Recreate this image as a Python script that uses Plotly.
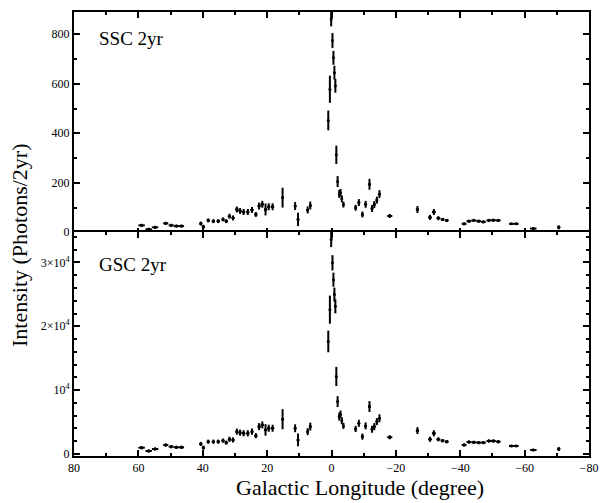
import plotly.graph_objects as go
from plotly.subplots import make_subplots

# Galactic longitude (deg)
lon = [59.0, 56.8, 54.8,
       51.5, 49.8, 48.2, 46.6,
       40.6, 39.8, 38.3, 36.7, 35.2, 33.7, 32.7, 31.7, 30.6, 29.4, 28.4, 27.3, 26.0, 24.7,
       23.5, 22.5, 21.5, 20.5, 19.5, 18.3,
       15.2, 11.3, 10.4, 7.4, 6.6,
       1.0, 0.5, 0.1, -0.3, -0.6, -0.9, -1.2, -1.5, -1.9, -2.4, -2.8, -3.2, -3.7,
       -7.5, -8.5, -9.6, -10.6, -11.8, -12.6, -13.3, -14.1, -14.9,
       -18.1, -26.7, -30.6, -31.8, -33.2, -34.5, -35.8,
       -41.2, -42.7, -44.2, -45.7, -47.2, -48.9, -50.3, -51.8,
       -55.9, -57.4, -62.7, -70.6]

lon_err = [1.0, 1.0, 1.0,
           0.8, 0.8, 0.8, 0.8,
           0.5, 0.5, 0.5, 0.5, 0.5, 0.5, 0.5, 0.5, 0.5, 0.5, 0.5, 0.5, 0.5, 0.5,
           0.5, 0.5, 0.5, 0.5, 0.5, 0.5,
           0.3, 0.4, 0.4, 0.4, 0.4,
           0.15, 0.15, 0.15, 0.15, 0.15, 0.15, 0.15, 0.15, 0.15, 0.15, 0.15, 0.15, 0.15,
           0.4, 0.4, 0.4, 0.4, 0.4, 0.4, 0.4, 0.4, 0.4,
           0.8, 0.5, 0.6, 0.6, 0.6, 0.6, 0.6,
           0.75, 0.75, 0.75, 0.75, 0.75, 0.75, 0.75, 0.75,
           0.75, 0.75, 1.0, 0.5]

# SSC 2yr intensity (photons / 2yr)
ssc = [28, 12, 20,
       36, 28, 25, 25,
       35, 22, 48, 45, 45, 52, 45, 65, 58, 92, 86, 82, 82, 90,
       72, 106, 113, 92, 103, 103,
       140, 106, 52, 90, 108,
       452, 578, 862, 775, 705, 645, 592, 313, 205, 155, 160, 135, 112,
       99, 120, 72, 113, 194, 96, 112, 130, 154,
       66, 92, 60, 82, 57, 52, 48,
       34, 45, 48, 45, 42, 48, 49, 48,
       34, 34, 15, 20]

ssc_err = [6, 6, 6,
           6, 6, 6, 6,
           8, 8, 8, 8, 8, 8, 8, 10, 10, 12, 12, 12, 12, 12,
           10, 14, 14, 24, 14, 14,
           40, 16, 27, 14, 16,
           40, 55, 30, 30, 28, 28, 28, 37, 22, 16, 15, 14, 12,
           12, 14, 12, 14, 22, 14, 14, 14, 16,
           8, 14, 10, 12, 8, 6, 6,
           6, 6, 6, 6, 6, 6, 6, 6,
           4, 4, 5, 8]

# GSC 2yr intensity (photons / 2yr)
gsc = [990, 470, 785,
       1410, 1150, 1050, 1050,
       1570, 990, 1930, 1930, 1930, 2090, 1780, 2300, 2200, 3500, 3340, 3240, 3240, 3500,
       2870, 4290, 4550, 3770, 4030, 4030,
       5450, 4030, 2200, 3500, 4290,
       17630, 22600, 33600, 29940, 27300, 24960, 23130, 12140, 8210, 5860, 6200, 5200, 4400,
       3920, 4810, 2720, 4400, 7430, 3870, 4290, 5070, 5600,
       2620, 3660, 2300, 3240, 2300, 2090, 1930,
       1410, 1880, 1830, 1780, 1780, 2040, 2040, 1930,
       1260, 1260, 630, 785]

gsc_err = [250, 250, 250,
           250, 250, 250, 250,
           320, 320, 320, 320, 320, 320, 320, 400, 400, 480, 480, 480, 480, 480,
           400, 550, 550, 900, 550, 550,
           1570, 620, 1000, 550, 620,
           1700, 2200, 1200, 1200, 1100, 1100, 1100, 1500, 850, 620, 600, 550, 480,
           480, 550, 480, 550, 850, 550, 550, 550, 620,
           320, 550, 400, 480, 320, 250, 250,
           250, 250, 250, 250, 250, 250, 250, 250,
           160, 160, 200, 320]

FONT = "Liberation Serif"

fig = make_subplots(rows=2, cols=1, vertical_spacing=0)

def add_series(y, yerr, row):
    fig.add_trace(go.Scatter(
        x=lon, y=y, mode="markers",
        marker=dict(color="black", size=3),
        error_y=dict(type="data", array=yerr, visible=True, color="black",
                     thickness=2, width=0),
        error_x=dict(type="data", array=lon_err, visible=True, color="black",
                     thickness=2, width=0),
        showlegend=False, cliponaxis=True), row=row, col=1)

add_series(ssc, ssc_err, 1)
add_series(gsc, gsc_err, 2)

axis_common = dict(showline=True, linewidth=2, linecolor="black", mirror="ticks",
                   ticks="inside", ticklen=6, tickwidth=1.5, tickcolor="black",
                   showgrid=False, zeroline=False,
                   tickfont=dict(family=FONT, size=12, color="black"))

fig.update_xaxes(range=[80, -80], dtick=20, tick0=0,
                 minor=dict(ticks="inside", dtick=10, ticklen=3, tickwidth=1.5,
                            tickcolor="black"),
                 **axis_common)
fig.update_xaxes(showticklabels=False, row=1, col=1)

fig.update_yaxes(range=[-7, 890], tickvals=[0, 200, 400, 600, 800],
                 minor=dict(ticks="inside", tickvals=[100, 300, 500, 700], ticklen=3,
                            tickwidth=1.5, tickcolor="black"),
                 row=1, col=1, **axis_common)
fig.update_yaxes(range=[-315, 34765], tickvals=[0, 10000, 20000, 30000],
                 ticktext=["0", "10<sup>4</sup>", "2×10<sup>4</sup>", "3×10<sup>4</sup>"],
                 minor=dict(ticks="inside", dtick=2000, ticklen=3, tickwidth=1.5,
                            tickcolor="black"),
                 row=2, col=1, **axis_common)

fig.update_layout(
    width=608, height=503,
    margin=dict(l=74, r=10, t=12, b=47),
    paper_bgcolor="white", plot_bgcolor="white",
    font=dict(family=FONT, color="black"),
)
fig.update_yaxes(domain=[0.5, 1.0], row=1, col=1)
fig.update_yaxes(domain=[0.0, 0.5 + 2 / 444], row=2, col=1)

fig.add_annotation(text="SSC 2yr", xref="x domain", yref="y domain", x=0.045, y=0.88,
                   xanchor="left", yanchor="middle", showarrow=False,
                   font=dict(family=FONT, size=19, color="black"))
fig.add_annotation(text="GSC 2yr", xref="x2 domain", yref="y2 domain", x=0.045, y=0.857,
                   xanchor="left", yanchor="middle", showarrow=False,
                   font=dict(family=FONT, size=19, color="black"))
fig.add_annotation(text="Galactic Longitude (degree)", xref="paper", yref="paper",
                   x=0.555, y=-0.072, xanchor="center", yanchor="middle", showarrow=False,
                   font=dict(family=FONT, size=22, color="black"))
fig.add_annotation(text="Intensity (Photons/2yr)", xref="paper", yref="paper",
                   x=-0.107, y=0.475, xanchor="center", yanchor="middle", showarrow=False,
                   textangle=-90, font=dict(family=FONT, size=22, color="black"))

# remove the default page margin so the figure sits at the window's top-left corner
fig.write_html("out.html", config={"displayModeBar": False},
               post_script="document.body.style.margin='0px';")
